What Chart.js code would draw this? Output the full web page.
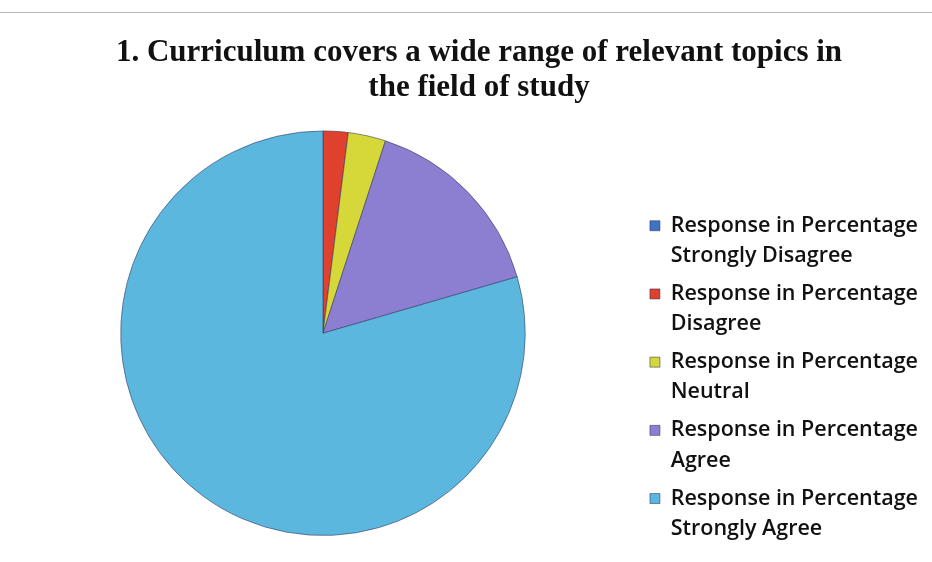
<!DOCTYPE html>
<html>
<head>
<meta charset="utf-8">
<script src="https://cdn.jsdelivr.net/npm/chart.js@4/dist/chart.umd.min.js"></script>
<style>
  html, body { margin: 0; padding: 0; background: #fff; }
  #wrap { width: 932px; height: 562px; position: relative; }
  #wrap::before { content: ""; position: absolute; left: 0; right: 0; top: 12px; border-top: 1px solid #bbb; }
</style>
</head>
<body>
<div id="wrap"><canvas id="pieChart" width="932" height="562"></canvas></div>
<script>
// data
const categories = ["Strongly Disagree", "Disagree", "Neutral", "Agree", "Strongly Agree"];
const percentages = [0, 2, 3, 15.5, 79.5];
const sliceColors = ["#3f74c4", "#e0402e", "#d6d83a", "#8c7fd2", "#5cb7de"];
const titleLines = ["1. Curriculum covers a wide range of relevant topics in", "the field of study"];

// legend labels are two lines: series name + category
const labels = categories.map((c) => ["Response in Percentage", c]);

// nudge title and legend to where they sit in the original
const nudge = {
  id: "nudge",
  afterLayout(chart) {
    chart.titleBlock.left += 13;
    chart.titleBlock.right += 13;
    chart.legend.top += 20;
    chart.legend.bottom += 20;
    chart.legend.left -= 4;
    chart.legend.right -= 4;
  },
};

const ctx = document.getElementById("pieChart").getContext("2d");
const chart = new Chart(ctx, {
  type: "pie",
  data: {
    labels: labels,
    datasets: [
      {
        label: "Response in Percentage",
        data: percentages,
        backgroundColor: sliceColors,
        borderColor: "rgba(50,50,90,0.55)",
        borderWidth: 1,
      },
    ],
  },
  options: {
    responsive: false,
    animation: false,
    layout: {
      padding: { top: 0, bottom: 26, left: 0, right: 0 },
    },
    plugins: {
      title: {
        display: true,
        text: titleLines,
        color: "#111",
        font: { family: "'Liberation Serif', serif", size: 31, weight: "bold", lineHeight: 1.12 },
        padding: { top: 36, bottom: 25 },
      },
      legend: {
        display: true,
        position: "right",
        align: "end",
        labels: {
          color: "#111",
          boxWidth: 10,
          boxHeight: 10,
          padding: 8,
          font: { family: "'Open Sans', sans-serif", size: 21.5, weight: "600", lineHeight: 1.4 },
        },
      },
      tooltip: { enabled: false },
    },
  },
  plugins: [nudge],
});
</script>
</body>
</html>
